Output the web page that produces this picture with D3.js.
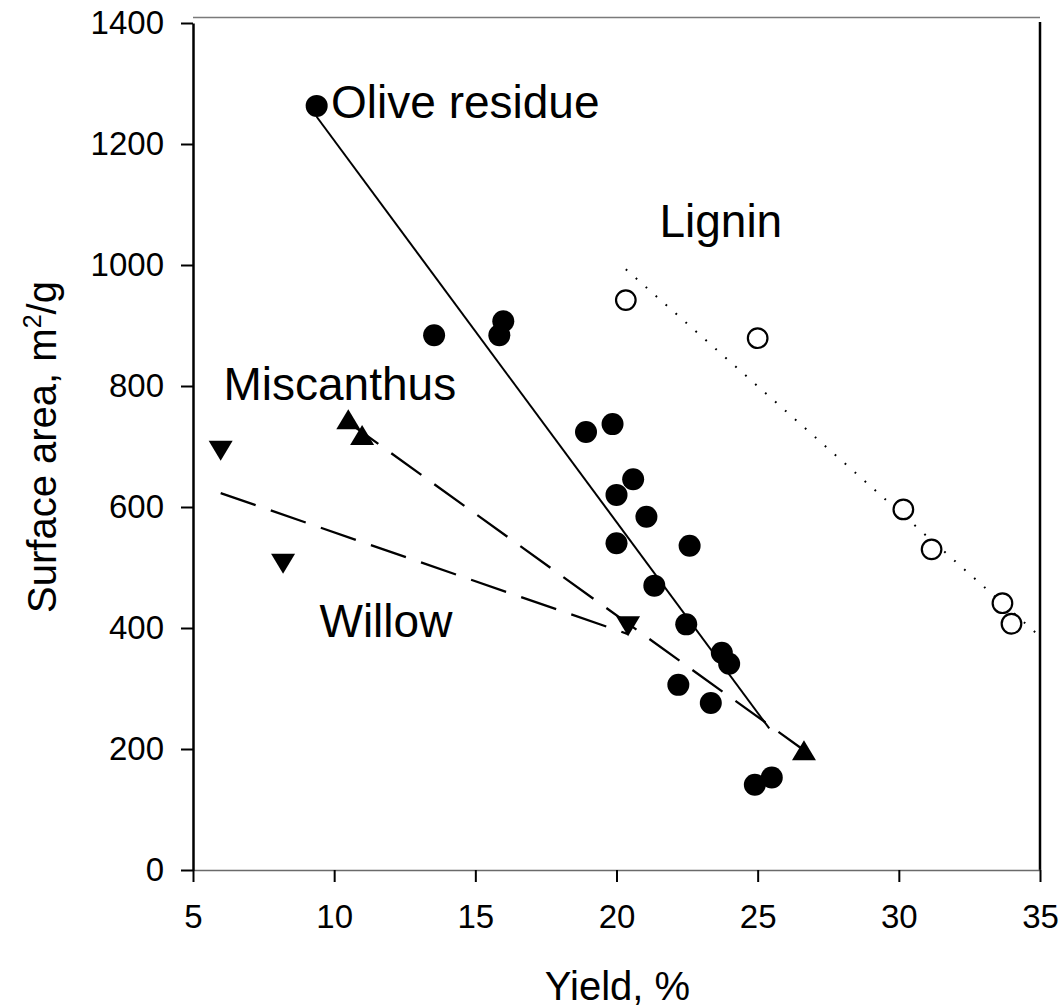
<!DOCTYPE html>
<html>
<head>
<meta charset="utf-8">
<script src="https://cdn.jsdelivr.net/npm/d3@7"></script>
<style>
    body { margin: 0; background: #fff; }
    text { font-family: "Liberation Sans", Arial, sans-serif; fill: #000; }
</style>
</head>
<body>
<div id="chart"></div>
<script>
// ---- data ----
var oliveX = [9.38, 13.54, 15.85, 15.99, 18.92, 19.86, 20.59, 20.0, 21.06, 20.0,
    22.59, 21.34, 22.47, 23.73, 23.99, 22.19, 23.34, 24.90, 25.50];
var oliveY = [1263, 884, 884, 907, 724, 737, 646, 620, 584, 540,
    536, 470, 406, 359, 341, 306, 276, 141, 153];

var ligninX = [20.33, 25.0, 30.16, 31.16, 33.67, 33.99];
var ligninY = [942, 879, 596, 530, 441, 407];

var miscX = [10.50, 10.99, 26.64];
var miscY = [745, 719, 198];

var willowX = [5.98, 8.19, 20.41];
var willowY = [693, 506, 403];

// fitted lines, end points
var oliveFitX = [9.38, 25.41], oliveFitY = [1245, 234];
var ligninFitX = [20.33, 35], ligninFitY = [993, 386];
var miscFitX = [10.50, 26.64], miscFitY = [740, 198];
var willowFitX = [5.98, 20.41], willowFitY = [623, 390];

var xTicks = [5, 10, 15, 20, 25, 30, 35];
var yTicks = [0, 200, 400, 600, 800, 1000, 1200, 1400];

// labels: text, x, y (data units, baseline-left)
var labelText = ["Olive residue", "Lignin", "Miscanthus", "Willow"];
var labelX = [9.89, 21.52, 6.08, 9.48];
var labelY = [1243, 1047, 777, 385];

function zip(xs, ys) {
    return xs.map(function (d, i) { return [d, ys[i]]; });
}

var margin = {top: 23, right: 22, bottom: 138, left: 193},
    width = 847,
    height = 847;

var svg = d3.select("#chart")
    .append("svg")
    .attr("width", 1062)
    .attr("height", 1008)
    .append("g")
    .attr("transform", "translate(" + margin.left + "," + margin.top + ")");

var x = d3.scaleLinear().domain([5, 35]).range([0, width]);
var y = d3.scaleLinear().domain([0, 1400]).range([height, 0]);

// frame: top (grey, slightly above) and right
svg.append("line")
    .attr("x1", 0).attr("x2", width)
    .attr("y1", -5.5).attr("y2", -5.5)
    .attr("stroke", "#7a7a7a").attr("stroke-width", 1.6);
svg.append("line")
    .attr("x1", width).attr("x2", width)
    .attr("y1", -1).attr("y2", height)
    .attr("stroke", "#000").attr("stroke-width", 2.5);

// X axis
var xAxis = svg.append("g")
    .attr("transform", "translate(0," + height + ")")
    .call(d3.axisBottom(x).tickValues(xTicks).tickFormat(d3.format("d"))
        .tickSize(12).tickSizeOuter(0).tickPadding(23));
xAxis.select(".domain").attr("stroke", "#6a6a6a").attr("stroke-width", 1.6);
xAxis.selectAll(".tick line").attr("stroke", "#000").attr("stroke-width", 2);
xAxis.selectAll("text").style("font-size", "33px");

// Y axis
var yAxis = svg.append("g")
    .call(d3.axisLeft(y).tickValues(yTicks).tickFormat(d3.format("d"))
        .tickSize(12).tickSizeOuter(0).tickPadding(17));
yAxis.select(".domain").attr("stroke", "#000").attr("stroke-width", 2.5);
yAxis.selectAll(".tick line").attr("stroke", "#000").attr("stroke-width", 2);
yAxis.selectAll("text").style("font-size", "33px");

// fit lines
var line = d3.line()
    .x(function (d) { return x(d[0]); })
    .y(function (d) { return y(d[1]); });

svg.append("path")
    .attr("d", line(zip(oliveFitX, oliveFitY)))
    .attr("fill", "none").attr("stroke", "#000").attr("stroke-width", 2);

svg.append("path")
    .attr("d", line(zip(ligninFitX, ligninFitY)))
    .attr("fill", "none").attr("stroke", "#000").attr("stroke-width", 2)
    .attr("stroke-dasharray", "1.8,11.5");

svg.append("path")
    .attr("d", line(zip(miscFitX, miscFitY)))
    .attr("fill", "none").attr("stroke", "#000").attr("stroke-width", 2.3)
    .attr("stroke-dasharray", "37,16");

svg.append("path")
    .attr("d", line(zip(willowFitX, willowFitY)))
    .attr("fill", "none").attr("stroke", "#000").attr("stroke-width", 2.3)
    .attr("stroke-dasharray", "37,16");

// symbols
svg.append("g")
    .selectAll("circle")
    .data(zip(oliveX, oliveY))
    .enter().append("circle")
    .attr("cx", function (d) { return x(d[0]); })
    .attr("cy", function (d) { return y(d[1]); })
    .attr("r", 11)
    .attr("fill", "#000");

svg.append("g")
    .selectAll("circle")
    .data(zip(ligninX, ligninY))
    .enter().append("circle")
    .attr("cx", function (d) { return x(d[0]); })
    .attr("cy", function (d) { return y(d[1]); })
    .attr("r", 9.8)
    .attr("fill", "#fff")
    .attr("stroke", "#000")
    .attr("stroke-width", 2.2);

// triangle centred on its bounding box, up = 1 / down = -1
function tri(d, dir) {
    var cx = x(d[0]), cy = y(d[1]), w = 12, h = 10;
    return "M" + cx + "," + (cy - dir * h) +
        "L" + (cx + w) + "," + (cy + dir * h) +
        "L" + (cx - w) + "," + (cy + dir * h) + "Z";
}

svg.append("g")
    .selectAll("path")
    .data(zip(miscX, miscY))
    .enter().append("path")
    .attr("d", function (d) { return tri(d, 1); })
    .attr("fill", "#000");

svg.append("g")
    .selectAll("path")
    .data(zip(willowX, willowY))
    .enter().append("path")
    .attr("d", function (d) { return tri(d, -1); })
    .attr("fill", "#000");

// series labels
svg.selectAll(".label")
    .data(labelText)
    .enter().append("text")
    .attr("class", "label")
    .attr("x", function (d, i) { return x(labelX[i]); })
    .attr("y", function (d, i) { return y(labelY[i]); })
    .style("font-size", "46px")
    .text(function (d) { return d; });

// axis titles
svg.append("text")
    .attr("x", x(20) + 1)
    .attr("y", height + 130)
    .attr("text-anchor", "middle")
    .style("font-size", "40px")
    .text("Yield, %");

var yt = svg.append("text")
    .attr("transform", "translate(" + (56 - margin.left) + "," + (447 - margin.top) + ") rotate(-90)")
    .attr("text-anchor", "middle")
    .style("font-size", "40px");
yt.append("tspan").text("Surface area, m");
yt.append("tspan").attr("dy", "-15").style("font-size", "25px").text("2");
yt.append("tspan").attr("dy", "15").text("/g");
</script>
</body>
</html>
